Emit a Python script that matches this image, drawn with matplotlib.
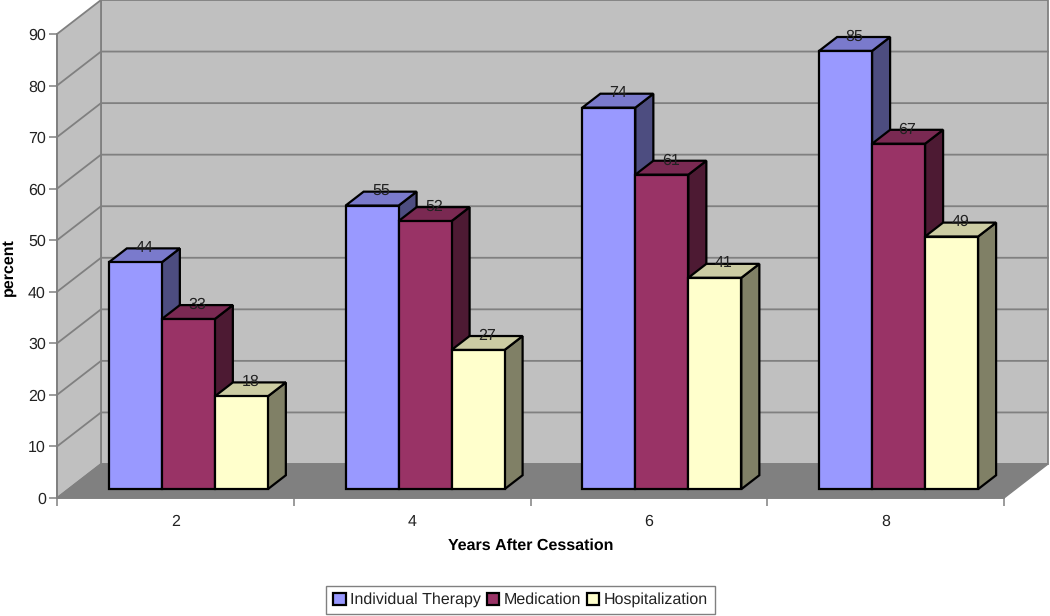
import matplotlib
matplotlib.use('Agg')
import matplotlib.pyplot as plt
from matplotlib.patches import Polygon, Patch

plt.rcParams['font.family'] = ['Liberation Sans', 'DejaVu Sans']
plt.rcParams['text.hinting'] = 'no_hinting'
plt.rcParams['text.hinting_factor'] = 1

years = ['2', '4', '6', '8']
therapy = [44, 55, 74, 85]
medication = [33, 52, 61, 67]
hospital = [18, 27, 41, 49]
series_names = ['Individual Therapy', 'Medication', 'Hospitalization']
yticks = [0, 10, 20, 30, 40, 50, 60, 70, 80, 90]

front_cols = ['#9999FF', '#993366', '#FFFFCC']
top_cols = ['#7A7ACC', '#7A2952', '#CCCCA3']
side_cols = ['#4D4D80', '#4D1A33', '#808066']

W, H = 1050, 616
fig = plt.figure(figsize=(W / 100, H / 100), dpi=100)
ax = fig.add_axes([57 / W, 1 - 498 / H, 947 / W, 464 / H])
ax.set_xlim(0, 4)
ax.set_ylim(0, 90)

# depth of the fake 3d box, in data units
dx = 44 / (947 / 4)
dy = 34 / (464 / 90)


def pr(x, y, d):
    return (x + d * dx, y + d * dy)


def poly(pts, fc, ec, lw, z):
    ax.add_patch(Polygon(pts, closed=True, fc=fc, ec=ec, lw=lw, zorder=z,
                         clip_on=False, joinstyle='miter'))


gray = '#808080'
# back wall, side wall, floor
poly([pr(0, 0, 1), pr(4, 0, 1), pr(4, 90, 1), pr(0, 90, 1)], '#C0C0C0', gray, 1.3, 1)
poly([pr(0, 0, 0), pr(0, 0, 1), pr(0, 90, 1), pr(0, 90, 0)], '#C0C0C0', gray, 1.3, 1)
poly([pr(0, 0, 0), pr(4, 0, 0), pr(4, 0, 1), pr(0, 0, 1)], gray, gray, 1.0, 2)

for v in yticks[1:-1]:
    ax.plot(*zip(pr(0, v, 0), pr(0, v, 1), pr(4, v, 1)), color=gray, lw=1.3,
            zorder=2, clip_on=False)

# bars
bar_w = 53 / (947 / 4)
gap = (1 - 3 * bar_w) / 2 + 1.5 / (947 / 4)
d0, d1 = 0.26, 0.67
z = 3
for i in range(len(years)):
    for s, vals in enumerate([therapy, medication, hospital]):
        x0 = i + gap + s * bar_w
        x1 = x0 + bar_w
        v = vals[i]
        poly([pr(x1, 0, d0), pr(x1, 0, d1), pr(x1, v, d1), pr(x1, v, d0)],
             side_cols[s], 'black', 1.6, z)
        poly([pr(x0, v, d0), pr(x1, v, d0), pr(x1, v, d1), pr(x0, v, d1)],
             top_cols[s], 'black', 1.6, z)
        poly([pr(x0, 0, d0), pr(x1, 0, d0), pr(x1, v, d0), pr(x0, v, d0)],
             front_cols[s], 'black', 1.6, z)
        z += 1
        tx, ty = pr((x0 + x1) / 2, v, (d0 + d1) / 2)
        ax.text(tx, ty, str(v), ha='center', va='bottom', fontsize=11.8,
                color='#222222', zorder=40)

for sp in ['top', 'right']:
    ax.spines[sp].set_visible(False)
for sp in ['left', 'bottom']:
    ax.spines[sp].set_color(gray)
    ax.spines[sp].set_linewidth(1.3)
    ax.spines[sp].set_zorder(2.5)

ax.set_yticks(yticks)
ax.tick_params(axis='y', length=6, width=1.1, color=gray, labelsize=11.4, labelcolor='#222222', pad=2)
ax.set_xticks(range(5))
ax.set_xticklabels([])
ax.tick_params(axis='x', which='major', length=6, width=1.1, color=gray)
ax.set_xticks([0.5, 1.5, 2.5, 3.5], minor=True)
ax.set_xticklabels(years, minor=True, fontsize=11.4, color='#222222')
ax.tick_params(axis='x', which='minor', length=0, pad=12)

fig.text(531 / W, 1 - 546 / H, 'Years After Cessation', ha='center', va='center',
         fontsize=11.2, fontweight='bold')
fig.text(8 / W, 1 - 267 / H, 'percent', ha='center', va='center', rotation=90,
         fontsize=11.2, fontweight='bold')

handles = [Patch(fc=c, ec='black', lw=1.6) for c in front_cols]
leg = fig.legend(handles, series_names, loc='center', bbox_to_anchor=(520.5 / W, 1 - 600 / H),
                 ncol=3, fontsize=11.2, fancybox=False, edgecolor=gray, framealpha=1,
                 handlelength=0.8, handleheight=0.8, handletextpad=0.3, columnspacing=0.35,
                 borderpad=0.45, borderaxespad=0)
for t in leg.get_texts():
    t.set_color('#222222')

fig.savefig('out.png', dpi=100)
